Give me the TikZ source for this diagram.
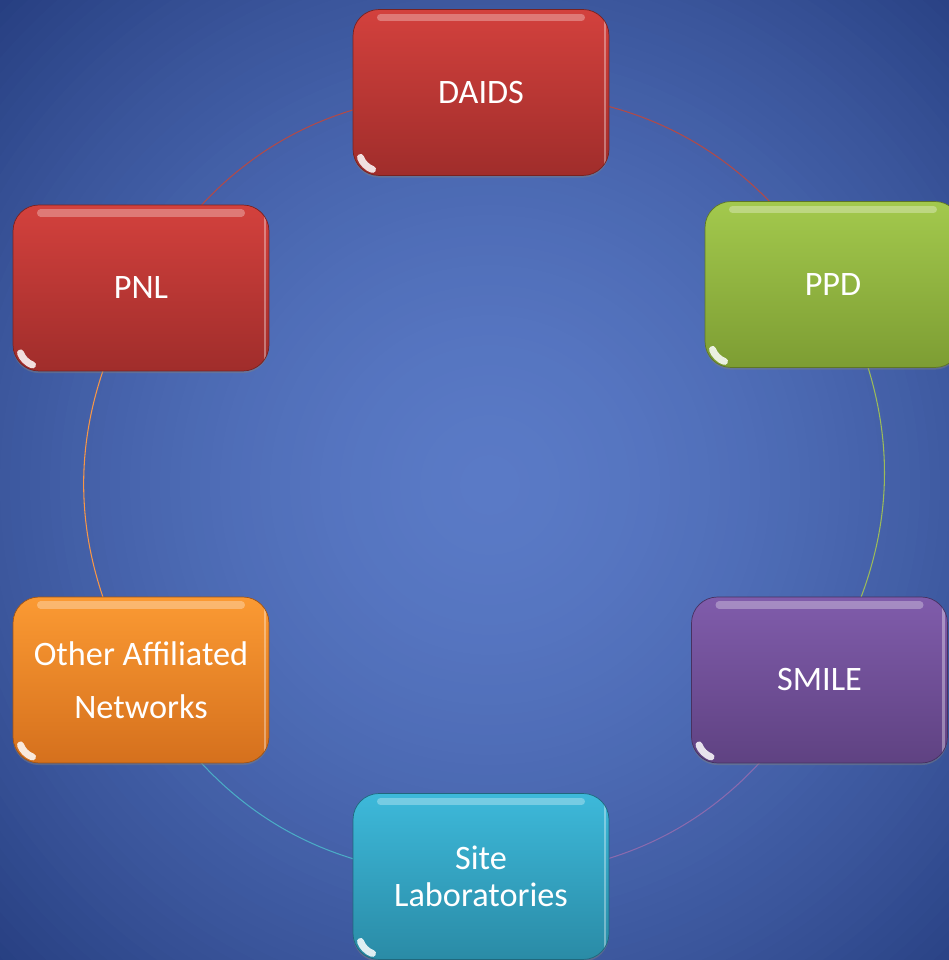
\documentclass[tikz,border=0pt]{standalone}
\usepackage{fontspec}
\setmainfont{Carlito}
\usepackage{tikz}
\usetikzlibrary{shadows}
\usetikzlibrary{backgrounds}

% colours of the boxes (top / bottom) and of the ring
\definecolor{redtop}{HTML}{D3413D}
\definecolor{redbot}{HTML}{A02D2B}
\definecolor{greentop}{HTML}{A3C94D}
\definecolor{greenbot}{HTML}{7D9D33}
\definecolor{purpletop}{HTML}{805CAB}
\definecolor{purplebot}{HTML}{5F4282}
\definecolor{cyantop}{HTML}{3DB9DA}
\definecolor{cyanbot}{HTML}{2A8BA6}
\definecolor{orangetop}{HTML}{FB9A33}
\definecolor{orangebot}{HTML}{D5701D}
\definecolor{ringred}{HTML}{B24A48}
\definecolor{ringgreen}{HTML}{9BBB59}
\definecolor{ringpurple}{HTML}{8A6AAE}
\definecolor{ringcyan}{HTML}{4BACC6}
\definecolor{ringorange}{HTML}{F79646}
\definecolor{bgin}{HTML}{5A7AC6}
\definecolor{bgout}{HTML}{263E80}

\begin{document}
\begin{tikzpicture}[x=0.02cm, y=0.02cm,
	box/.style={rounded corners=0.52cm, minimum width=5.12cm, minimum height=3.32cm,
		text=white, align=center, font=\fontsize{19.5}{21}\selectfont, line width=0.4pt,
		drop shadow={opacity=0.45, shadow xshift=0pt, shadow yshift=-1.2pt},
		path picture={
			% glossy top band, right rim and bottom left spot
			\draw [white, opacity=0.3, line width=4pt, line cap=round]
				([shift={(0.55cm,-0.16cm)}]path picture bounding box.north west) --
				([shift={(-0.55cm,-0.16cm)}]path picture bounding box.north east);
			\draw [white, opacity=0.35, line width=1.5pt, line cap=round]
				([shift={(-0.08cm,0.55cm)}]path picture bounding box.north east) --
				([shift={(-0.08cm,-0.55cm)}]path picture bounding box.south east);
			\draw [white, opacity=0.85, line width=4pt, line cap=round]
				([shift={(0.15cm,0.36cm)}]path picture bounding box.south west) arc (200:250:0.4cm);
		}},
	redbox/.style={box, top color=redtop, bottom color=redbot, draw=redbot!75!black},
	greenbox/.style={box, top color=greentop, bottom color=greenbot, draw=greenbot!75!black},
	purplebox/.style={box, top color=purpletop, bottom color=purplebot, draw=purplebot!75!black},
	cyanbox/.style={box, top color=cyantop, bottom color=cyanbot, draw=cyanbot!75!black},
	orangebox/.style={box, top color=orangetop, bottom color=orangebot, draw=orangebot!75!black},
	ring/.style={line width=0.6pt}]

	% background: soft glow, lighter in the middle
	\begin{scope}[on background layer]
		\clip (0,0) rectangle (949,960);
		\foreach \r in {700,690,...,0} {
			\pgfmathsetmacro\p{100*(1-(\r/700)^1.6)}
			\fill [bgin!\p!bgout] (490,475) circle (\r);
		}
	\end{scope}
	\useasboundingbox (0,0) rectangle (949,960);

	% boxes round the ring
	\node [redbox] (daids) at (481,867.5) {DAIDS};
	\node [greenbox] (ppd) at (833,675.5) {PPD};
	\node [purplebox] (smile) at (819.5,280) {SMILE};
	\node [cyanbox, font=\fontsize{19.5}{21}\selectfont] (site) at (481,83.5) {Site\\Laboratories};
	\node [orangebox, font=\fontsize{19.5}{30}\selectfont] (other) at (141,280) {Other Affiliated\\Networks};
	\node [redbox] (pnl) at (141,672) {PNL};

	% the ring, one arc per box
	\begin{scope}[on background layer]
		\draw [ring, ringred] (daids.center) to [bend left=30] (ppd.center);
		\draw [ring, ringgreen] (ppd.center) to [bend left=30] (smile.center);
		\draw [ring, ringpurple] (smile.center) to [bend left=30] (site.center);
		\draw [ring, ringcyan] (site.center) to [bend left=30] (other.center);
		\draw [ring, ringorange] (other.center) to [bend left=30] (pnl.center);
		\draw [ring, ringred] (pnl.center) to [bend left=30] (daids.center);
	\end{scope}

\end{tikzpicture}
\end{document}
